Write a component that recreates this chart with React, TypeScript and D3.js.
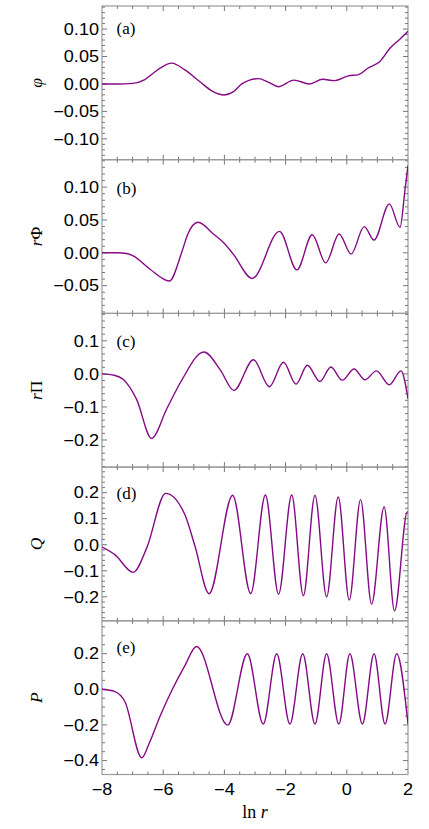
import React, { useEffect, useRef } from "react";
import * as d3 from "d3";

// values, [ln r, value]
const phiData: [number, number][] = [
  [-8, 0], [-7.5, 0], [-7.0, 0.001], [-6.6, 0.008], [-6.2, 0.025], [-5.72, 0.038],
  [-5.3, 0.026], [-4.8, 0.004], [-4.4, -0.013], [-4.01, -0.02], [-3.7, -0.014],
  [-3.43, 0.0], [-2.89, 0.0097], [-2.55, 0.003], [-2.24, -0.005], [-1.73, 0.007],
  [-1.22, 0.0], [-0.79, 0.0086], [-0.41, 0.006], [0.05, 0.0147], [0.38, 0.017],
  [0.7, 0.029], [1.08, 0.041], [1.41, 0.065], [1.74, 0.082], [2.0, 0.096],
];
const rPhiData: [number, number][] = [
  [-8, 0], [-7.5, 0], [-7.2, -0.001], [-6.98, -0.0045], [-6.43, -0.025], [-5.8, -0.043],
  [-5.4, 0.0], [-5.2, 0.028], [-4.86, 0.0465], [-4.37, 0.029], [-4.04, 0.016],
  [-3.71, -0.002], [-3.09, -0.039], [-2.2, 0.0327], [-1.63, -0.026], [-1.13, 0.0275],
  [-0.69, -0.0153], [-0.25, 0.0286], [0.14, -0.002], [0.57, 0.0398], [0.89, 0.0194],
  [1.39, 0.0745], [1.74, 0.0388], [1.9, 0.095], [2.0, 0.133],
];
const rPiData: [number, number][] = [
  [-8, 0.0], [-7.6, -0.004], [-7.3, -0.017], [-6.87, -0.077], [-6.38, -0.195],
  [-5.89, -0.107], [-5.4, -0.02], [-4.67, 0.066], [-4.14, 0.013], [-3.69, -0.05],
  [-3.05, 0.043], [-2.53, -0.039], [-2.07, 0.035], [-1.66, -0.031], [-1.29, 0.026],
  [-0.88, -0.023], [-0.52, 0.021], [-0.15, -0.019], [0.24, 0.015], [0.59, -0.018],
  [0.97, 0.009], [1.39, -0.033], [1.77, 0.009], [2.0, -0.075],
];
const qData: [number, number][] = [
  [-8, -0.009], [-7.58, -0.038], [-6.98, -0.106], [-6.54, -0.013], [-5.92, 0.197],
  [-5.29, 0.115], [-4.96, -0.006], [-4.5, -0.188], [-3.73, 0.19], [-3.14, -0.187],
  [-2.66, 0.191], [-2.23, -0.19], [-1.8, 0.191], [-1.42, -0.196], [-1.04, 0.19],
  [-0.66, -0.2], [-0.28, 0.183], [0.08, -0.212], [0.45, 0.173], [0.81, -0.228],
  [1.22, 0.145], [1.56, -0.254], [1.98, 0.126], [2.0, 0.124],
];
const pData: [number, number][] = [
  [-8, 0.0], [-7.58, -0.013], [-7.25, -0.07], [-6.7, -0.385], [-6.45, -0.30],
  [-6.1, -0.15], [-5.7, 0.0], [-5.3, 0.13], [-4.91, 0.24], [-3.89, -0.201], [-3.25, 0.199],
  [-2.73, -0.195], [-2.29, 0.199], [-1.86, -0.195], [-1.44, 0.199], [-1.04, -0.195],
  [-0.66, 0.199], [-0.26, -0.195], [0.1, 0.199], [0.51, -0.195], [0.89, 0.199],
  [1.25, -0.195], [1.63, 0.199], [2.0, -0.195],
];

const xTickLabels = [-8, -6, -4, -2, 0, 2];

const panels = [
  { data: phiData, tag: "(a)", label: [["φ", true]], y: [-0.138, 0.142], major: [-0.1, -0.05, 0, 0.05, 0.1], minor: 0.01, digits: 2, tagDy: 28 },
  { data: rPhiData, tag: "(b)", label: [["r", true], ["Φ", false]], y: [-0.0922, 0.1417], major: [-0.05, 0, 0.05, 0.1], minor: 0.01, digits: 2, tagDy: 34 },
  { data: rPiData, tag: "(c)", label: [["r", true], ["Π", false]], y: [-0.282, 0.183], major: [-0.2, -0.1, 0, 0.1], minor: 0.02, digits: 1, tagDy: 34 },
  { data: qData, tag: "(d)", label: [["Q", true]], y: [-0.292, 0.298], major: [-0.2, -0.1, 0, 0.1, 0.2], minor: 0.02, digits: 1, tagDy: 32 },
  { data: pData, tag: "(e)", label: [["P", true]], y: [-0.478, 0.384], major: [-0.4, -0.2, 0, 0.2], minor: 0.05, digits: 1, tagDy: 32 },
];

const W = 429, H = 829;
const left = 102, right = 408, top = 6, ph = 153.7;
const purple = "#850a85";
const frame = "#9a9a9a";
const tickCol = "#777";
const sans = "'Liberation Sans', Arial, sans-serif";
const serif = "'Liberation Serif', 'Times New Roman', serif";

const fmt = (v: number, digits: number) => {
  const s = Math.abs(v).toFixed(digits);
  return (v < -1e-9 ? "\u2212" : "") + s;
};

export default function App() {
  const svgRef = useRef<SVGSVGElement>(null);

  useEffect(() => {
    const svg = d3.select(svgRef.current);
    svg.selectAll("*").remove();

    const x = d3.scaleLinear().domain([-8, 2]).range([left, right]);
    const xMinor = d3.range(-8, 2.001, 0.5);

    panels.forEach((p, i) => {
      const y0 = top + i * ph;
      const y1 = y0 + ph;
      const y = d3.scaleLinear().domain(p.y).range([y1, y0]);
      const g = svg.append("g");

      // clip
      const clipId = `clip${i}`;
      svg.append("clipPath").attr("id", clipId)
        .append("rect").attr("x", left).attr("y", y0).attr("width", right - left).attr("height", ph);

      // frame
      g.append("rect")
        .attr("x", left).attr("y", y0).attr("width", right - left).attr("height", ph)
        .attr("fill", "none").attr("stroke", frame).attr("stroke-width", 1.2);

      // x ticks top & bottom (inward)
      xMinor.forEach((t) => {
        const isMajor = Math.abs(t / 2 - Math.round(t / 2)) < 1e-6;
        const len = isMajor ? 5 : 3;
        if (t <= -8 || t >= 2) return;
        g.append("line").attr("x1", x(t)).attr("x2", x(t)).attr("y1", y1).attr("y2", y1 - len)
          .attr("stroke", tickCol).attr("stroke-width", 1);
        g.append("line").attr("x1", x(t)).attr("x2", x(t)).attr("y1", y0).attr("y2", y0 + len)
          .attr("stroke", tickCol).attr("stroke-width", 1);
      });

      // y ticks left & right
      const lo = Math.ceil(p.y[0] / p.minor - 1e-6), hi = Math.floor(p.y[1] / p.minor + 1e-6);
      d3.range(lo, hi + 1).forEach((k) => {
        const v = k * p.minor;
        const isMajor = p.major.some((m) => Math.abs(m - v) < 1e-6);
        const len = isMajor ? 5 : 3;
        const py = y(v);
        g.append("line").attr("x1", left).attr("x2", left + len).attr("y1", py).attr("y2", py)
          .attr("stroke", tickCol).attr("stroke-width", 1);
        g.append("line").attr("x1", right).attr("x2", right - len).attr("y1", py).attr("y2", py)
          .attr("stroke", tickCol).attr("stroke-width", 1);
      });

      // y tick labels
      p.major.forEach((v) => {
        g.append("text")
          .attr("transform", `translate(${left - 3},${y(v) + 5.8}) scale(1.13,1)`)
          .attr("text-anchor", "end")
          .attr("font-family", sans).attr("font-size", 16).attr("fill", "#000")
          .text(fmt(v, p.digits));
      });

      // y axis label
      const cy = (y0 + y1) / 2;
      const lab = g.append("text")
        .attr("transform", `translate(42,${cy}) rotate(-90)`)
        .attr("text-anchor", "middle")
        .attr("font-family", serif).attr("font-size", 17.5).attr("fill", "#000");
      p.label.forEach(([s, it]) => {
        lab.append("tspan").attr("font-style", it ? "italic" : "normal").text(s as string);
      });

      // panel tag
      g.append("text")
        .attr("x", 116.5).attr("y", y0 + p.tagDy)
        .attr("font-family", serif).attr("font-size", 17).attr("fill", "#000")
        .text(p.tag);

      // curve
      const line = d3.line<[number, number]>()
        .x((d) => x(d[0]))
        .y((d) => y(d[1]))
        .curve(d3.curveMonotoneX);
      g.append("path")
        .datum(p.data)
        .attr("clip-path", `url(#${clipId})`)
        .attr("d", line)
        .attr("fill", "none")
        .attr("stroke", purple)
        .attr("stroke-width", 1.4);
    });

    // x tick labels
    const yBottom = top + 5 * ph;
    xTickLabels.forEach((t) => {
      svg.append("text")
        .attr("transform", `translate(${x(t)},${yBottom + 20.5}) scale(1.13,1)`)
        .attr("text-anchor", "middle")
        .attr("font-family", sans).attr("font-size", 16).attr("fill", "#000")
        .text(fmt(t, 0));
    });

    const xl = svg.append("text")
      .attr("x", (left + right) / 2).attr("y", yBottom + 43)
      .attr("text-anchor", "middle")
      .attr("font-family", serif).attr("font-size", 18).attr("fill", "#000");
    xl.append("tspan").text("ln ");
    xl.append("tspan").attr("font-style", "italic").text("r");
  }, []);

  return (
    <svg ref={svgRef} width={W} height={H}
      style={{ position: "absolute", left: 0, top: 0, background: "#fff" }} />
  );
}
